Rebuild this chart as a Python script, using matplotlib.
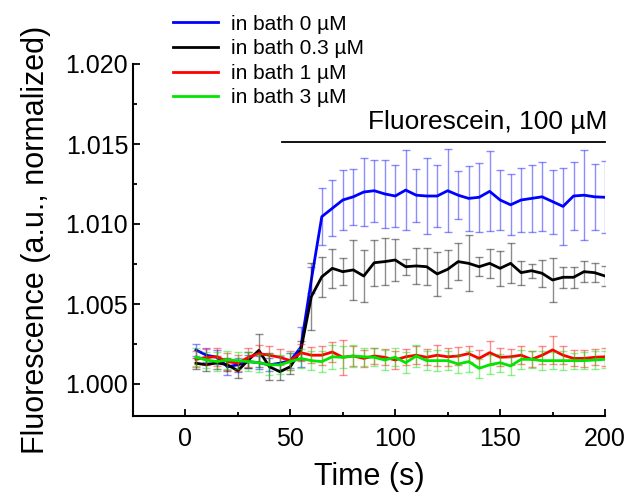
import numpy as np
import matplotlib.pyplot as plt

plt.rcParams['font.family'] = ['Liberation Sans', 'DejaVu Sans']

t = np.arange(5, 201, 5)

# mean fluorescence (minus 1) for each bath concentration
blue = [2.13, 1.80, 1.67, 1.08, 1.20, 1.40, 1.33, 1.20, 1.30, 1.46,
        2.30, 6.50, 10.46, 10.98, 11.50, 11.70, 12.00, 12.08, 11.88, 11.75,
        12.12, 11.80, 11.75, 11.75, 12.08, 11.80, 11.60, 11.67, 12.04, 11.50,
        11.20, 11.50, 11.60, 11.70, 11.40, 11.10, 11.75, 11.80, 11.70, 11.67]
black = [1.30, 1.20, 1.33, 1.20, 0.83, 1.50, 2.10, 1.08, 0.77, 1.08,
         2.10, 5.46, 6.70, 7.23, 7.02, 7.13, 6.75, 7.58, 7.65, 7.75,
         7.33, 7.38, 7.33, 6.88, 7.17, 7.65, 7.54, 7.33, 7.54, 7.23,
         7.54, 6.96, 7.08, 6.92, 6.50, 6.67, 6.67, 7.02, 6.96, 6.75]
red = [1.54, 1.67, 1.70, 1.40, 1.30, 1.67, 1.90, 1.80, 1.67, 1.46,
       1.96, 1.80, 1.80, 2.00, 1.67, 1.75, 1.60, 1.75, 1.67, 1.50,
       1.70, 1.80, 1.67, 1.80, 1.70, 1.75, 1.90, 1.60, 1.96, 1.67,
       1.70, 1.80, 1.54, 1.80, 2.13, 1.80, 1.60, 1.60, 1.67, 1.70]
green = [1.67, 1.50, 1.40, 1.50, 1.46, 1.40, 1.33, 1.20, 1.20, 1.40,
         1.60, 1.46, 1.40, 1.70, 1.67, 1.75, 1.70, 1.67, 1.50, 1.67,
         1.33, 1.75, 1.46, 1.46, 1.46, 1.25, 1.40, 0.98, 1.20, 1.33,
         1.13, 1.54, 1.54, 1.46, 1.46, 1.46, 1.46, 1.46, 1.50, 1.54]

# error bars (same units)
blue_err = [0.40, 0.45, 0.45, 0.50, 0.45, 0.40, 0.40, 0.40, 0.45, 0.45,
            1.25, 0.80, 1.80, 1.75, 1.90, 1.75, 2.10, 1.95, 2.10, 1.95,
            2.50, 1.65, 2.35, 1.95, 2.60, 1.50, 2.05, 2.15, 2.50, 1.90,
            1.90, 2.00, 2.10, 2.15, 2.00, 2.40, 2.10, 2.80, 2.05, 2.25]
black_err = [0.35, 0.40, 0.40, 0.40, 0.45, 0.50, 1.05, 0.85, 0.55, 0.45,
             0.60, 2.10, 1.25, 1.20, 0.85, 1.85, 1.65, 1.45, 1.45, 1.30,
             0.50, 1.15, 1.15, 1.40, 1.20, 1.15, 1.75, 0.60, 0.90, 1.10,
             1.25, 0.75, 0.45, 0.85, 1.35, 0.65, 0.65, 0.65, 0.60, 0.60]
red_err = [0.50, 0.50, 0.55, 0.55, 0.50, 0.60, 0.55, 0.60, 0.50, 0.60,
           0.55, 0.50, 0.60, 0.65, 1.10, 0.60, 0.55, 0.50, 0.50, 0.55,
           0.50, 0.55, 0.50, 0.65, 0.55, 0.55, 0.50, 0.55, 0.75, 0.55,
           0.50, 0.55, 0.50, 0.55, 0.85, 0.55, 0.50, 0.55, 0.50, 0.55]
green_err = [0.55, 0.50, 0.60, 0.55, 0.55, 0.60, 0.55, 0.65, 0.60, 0.55,
             0.60, 0.60, 0.65, 0.75, 0.70, 0.70, 0.55, 0.55, 0.60, 0.55,
             0.65, 0.70, 0.60, 0.65, 0.60, 0.55, 0.65, 0.60, 0.60, 0.55,
             0.55, 0.60, 0.55, 0.60, 0.55, 0.60, 0.50, 0.55, 0.55, 0.55]

labels = ['in bath 0 \u00b5M', 'in bath 0.3 \u00b5M', 'in bath 1 \u00b5M', 'in bath 3 \u00b5M']
colors = ['#0000ff', '#000000', '#ff0000', '#00e600']

fig = plt.figure(figsize=(6.31, 5.03), dpi=100)
ax = fig.add_axes([133/631, 87/503, 472/631, 352/503])

lines = []
for y, e, c, lab in zip([blue, black, red, green], [blue_err, black_err, red_err, green_err], colors, labels):
    y = 1 + np.array(y) / 1000
    e = np.array(e) / 1000
    ax.errorbar(t, y, yerr=e, fmt='none', ecolor=c, alpha=0.45, elinewidth=1, capsize=3, capthick=1)
    ln, = ax.plot(t, y, color=c, lw=2, label=lab)
    lines.append(ln)

ax.plot([46, 200], [1.01513, 1.01513], color='black', lw=1.3, clip_on=False)
ax.text(201, 1.0156, 'Fluorescein, 100 \u00b5M', ha='right', va='bottom', fontsize=19)

ax.set_xlim(-25, 200)
ax.set_ylim(0.998, 1.020)
ax.set_xticks([0, 50, 100, 150, 200])
ax.set_xticks([25, 75, 125, 175], minor=True)
ax.set_yticks([1.000, 1.005, 1.010, 1.015, 1.020])
ax.set_yticklabels(['1.000', '1.005', '1.010', '1.015', '1.020'])
ax.set_yticks([1.0025, 1.0075, 1.0125, 1.0175], minor=True)
ax.spines['top'].set_visible(False)
ax.spines['right'].set_visible(False)
ax.spines['left'].set_bounds(0.998, 1.020)
for s in ['left', 'bottom']:
    ax.spines[s].set_linewidth(1.5)
ax.tick_params(which='both', direction='in', labelsize=18, width=1.3)
ax.tick_params(which='major', length=5)
ax.tick_params(which='minor', length=3)
ax.tick_params(axis='x', pad=8)
ax.set_xlabel('Time (s)', fontsize=22, labelpad=8)
ax.set_ylabel('Fluorescence (a.u., normalized)', fontsize=22, labelpad=10)

fig.legend(handles=lines, loc='upper left', bbox_to_anchor=(158/631, 1.0), frameon=False,
           fontsize=15, handlelength=2.2, handletextpad=0.6, labelspacing=0.27, borderpad=0.2)

fig.savefig('out.png', dpi=100)
